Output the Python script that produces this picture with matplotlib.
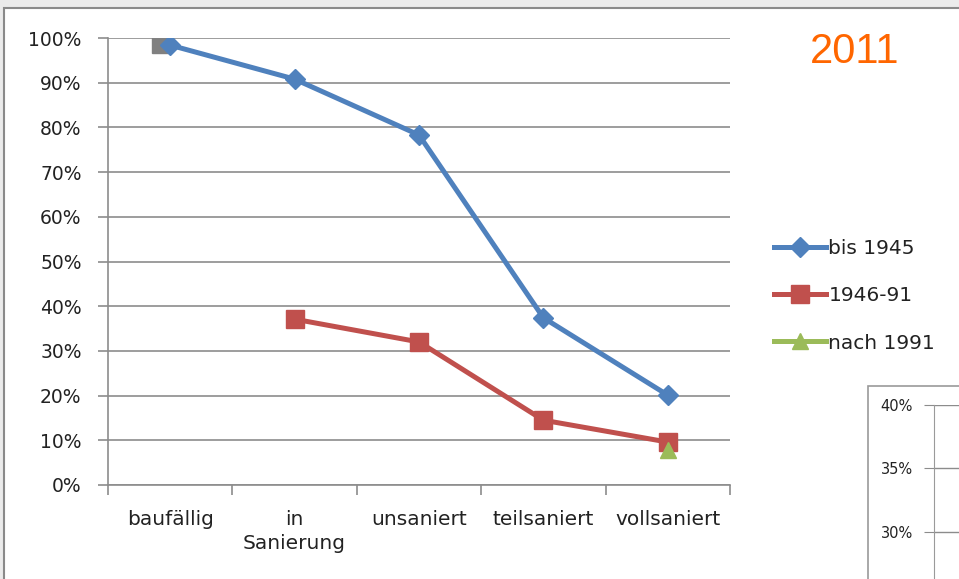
import matplotlib.pyplot as plt
import matplotlib.transforms as mtransforms
from matplotlib.patches import Rectangle
import numpy as np

plt.rcParams['font.family'] = ['DejaVu Sans']

categories = ["baufällig", "in\nSanierung", "unsaniert", "teilsaniert", "vollsaniert"]
bis_1945 = [98.4, 90.8, 78.3, 37.4, 20.1]
von_1946_91 = [None, 37.1, 32.0, 14.5, 9.6]
nach_1991 = [None, None, None, None, 7.8]
grey_point = [98.4]
yticks = list(range(0, 101, 10))
inset_ticks = [30, 35, 40]

blue = '#4F81BD'
red = '#C0504D'
green = '#9BBB59'
txt = '#222222'

fig = plt.figure(figsize=(9.59, 5.79), dpi=100)
fig.patch.set_facecolor('#ebebeb')
fig.patches.append(Rectangle((4 / 959, -0.1), 1.2, 1 - 8 / 579 + 0.1,
                             transform=fig.transFigure, facecolor='white',
                             edgecolor='#8a8a8a', linewidth=1.5, zorder=-10))

ax = fig.add_axes([108 / 959, 94 / 579, 622 / 959, 447 / 579])
ax.set_facecolor('none')
x = np.arange(len(categories))


def to_arr(v):
    return np.array([np.nan if a is None else a for a in v], dtype=float)


ax.plot(x, to_arr(bis_1945), color=blue, lw=3.6, marker='D', ms=10, label='bis 1945')
ax.plot(x, to_arr(von_1946_91), color=red, lw=3.6, marker='s', ms=13, label='1946-91')
ax.plot(x, to_arr(nach_1991), color=green, lw=3.6, marker='^', ms=12, label='nach 1991')
off = mtransforms.ScaledTranslation(-10 / 100, 0, fig.dpi_scale_trans)
ax.plot([0], grey_point, linestyle='none', marker='s', ms=11.5, color='#808080',
        transform=ax.transData + off, zorder=1)

ax.set_xlim(-0.5, len(categories) - 0.5)
ax.set_ylim(0, 100)
ax.set_yticks(yticks)
ax.set_yticklabels([f"{t}%" for t in yticks])
ax.yaxis.grid(True, color='#8c8c8c', lw=1.2)
ax.set_axisbelow(True)
ax.set_xticks(np.arange(len(categories) + 1) - 0.5, minor=False)
ax.set_xticklabels([])
ax.set_xticks(x, minor=True)
ax.set_xticklabels(categories, minor=True, fontsize=14.5, color=txt, linespacing=1.35)
ax.tick_params(axis='x', which='minor', length=0, pad=18)
ax.tick_params(axis='x', which='major', length=7, color='#8c8c8c', width=1.2)
ax.tick_params(axis='y', length=7, color='#8c8c8c', width=1.2, labelsize=13.5,
               labelcolor=txt, pad=12)
for s in ['top', 'right']:
    ax.spines[s].set_visible(False)
for s in ['left', 'bottom']:
    ax.spines[s].set_color('#8c8c8c')
    ax.spines[s].set_linewidth(1.2)

leg = fig.legend(loc='upper left', bbox_to_anchor=(756 / 959, 1 - 221 / 579),
                 frameon=False, fontsize=14.5, handlelength=2.6, handletextpad=0.1,
                 labelspacing=1.4, labelcolor=txt)

fig.text(855 / 959, 1 - 52 / 579, "2011", color='#FF6600', fontsize=30,
         ha='center', va='center', family='Liberation Sans')

# partial second chart, bottom right
fig.patches.append(Rectangle((868 / 959, -0.1), 0.2, (579 - 386) / 579 + 0.1,
                             transform=fig.transFigure, facecolor='white',
                             edgecolor='#9a9a9a', linewidth=1.2, zorder=-5))
ax2 = fig.add_axes([934 / 959, -0.05, 0.1, (579 - 405) / 579 + 0.05])
ax2.set_facecolor('none')
span_px = (579 - 405) + 0.05 * 579
ax2.set_ylim(40 - 5 * span_px / 63.5, 40)
ax2.set_yticks(inset_ticks)
ax2.set_yticklabels([f"{t}%" for t in inset_ticks])
ax2.yaxis.grid(True, color='#8c8c8c', lw=1.0)
ax2.tick_params(axis='y', length=7, color='#8c8c8c', labelsize=10.5, labelcolor=txt, pad=8)
ax2.set_xticks([])
for s in ['top', 'right', 'bottom']:
    ax2.spines[s].set_visible(False)
ax2.spines['left'].set_color('#9a9a9a')

fig.savefig('out.png', dpi=100, facecolor=fig.get_facecolor())
